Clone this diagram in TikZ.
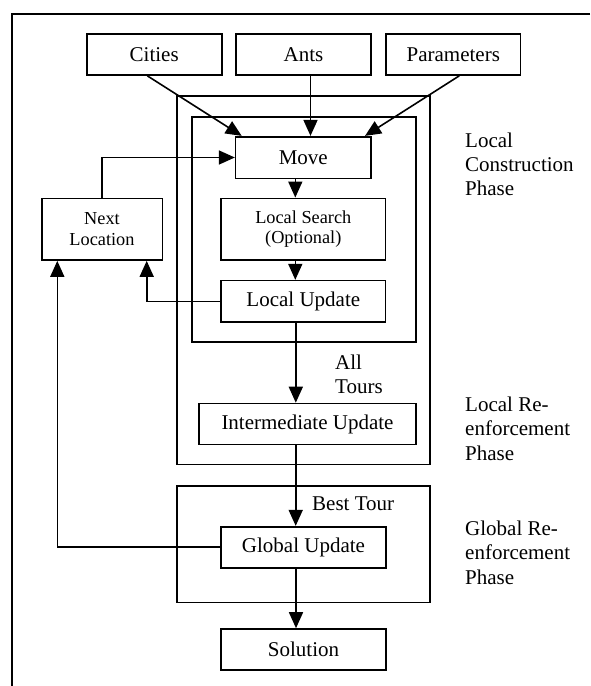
\documentclass[tikz,border=0pt]{standalone}
\usepackage{fontspec}
\setmainfont{Liberation Serif}
\usetikzlibrary{arrows.meta,calc}
\newcommand\diagbig{\fontsize{21pt}{24.2pt}\selectfont}
\newcommand\diagsmall{\fontsize{18.3pt}{20.7pt}\selectfont}
\begin{document}
\begin{tikzpicture}[x=1pt,y=-1pt,
  box/.style={draw,line width=1.6pt,inner sep=0pt,align=center,font=\diagbig},
  sbox/.style={box,font=\diagsmall},
  arr/.style={line width=1.6pt,-{Triangle[length=16pt,width=14pt]}},
  frame/.style={line width=1.6pt},
  lbl/.style={inner sep=0pt,align=left,font=\diagbig,anchor=base west}]
\useasboundingbox (0,0) rectangle (590,686);
% page frame
\draw[line width=2.3pt] (590,14) -- (12.3,14) -- (12.3,686);
% group frames
\draw[frame] (176.7,96) rectangle (430,464.5);
\draw[frame] (191.7,116.7) rectangle (415.7,342);
\draw[frame] (176.7,486) rectangle (430,602.5);
% nodes
\node[box,minimum width=135pt,minimum height=41pt] (cities) at (154.2,54.5) {Cities};
\node[box,minimum width=135pt,minimum height=41pt] (ants) at (303.5,54.5) {Ants};
\node[box,minimum width=134.7pt,minimum height=41pt] (params) at (453.3,54.5) {Parameters};
\node[box,minimum width=135.3pt,minimum height=41.6pt] (move) at (303.3,157.5) {Move};
\node[sbox,minimum width=120.6pt,minimum height=61.7pt] (nl) at (102,229.2) {Next\\Location};
\node[sbox,minimum width=164.7pt,minimum height=61.7pt] (ls) at (303.3,229.2) {Local Search\\(Optional)};
\node[box,minimum width=164.7pt,minimum height=41.3pt] (lu) at (303.3,301.3) {Local Update};
\node[box,minimum width=217pt,minimum height=41pt] (iu) at (307.5,424) {Intermediate Update};
\node[box,minimum width=165pt,minimum height=41pt] (gu) at (303.5,547.2) {Global Update};
\node[box,minimum width=165pt,minimum height=41pt] (sol) at (303.5,649.5) {Solution};
% labels (base anchor = baseline of the last line)
\node[lbl] (alltours) at (335,393.3) {All\\Tours};
\node[lbl] (besttour) at (312,510) {Best Tour};
\node[lbl] (ph1) at (465,195.4) {Local\\Construction\\Phase};
\node[lbl] (ph2) at (465,460) {Local Re-\\enforcement\\Phase};
\node[lbl] (ph3) at (465,584) {Global Re-\\enforcement\\Phase};
% connectors
\draw[arr] ([xshift=-6.9pt]cities.south) -- ([xshift=-61.6pt]move.north);
\draw[arr] ([xshift=7pt]ants.south) -- ([xshift=7.2pt]move.north);
\draw[arr] ([xshift=6pt]params.south) -- ([xshift=61.7pt]move.north);
\draw[arr] (nl.north) |- (move.west);
\draw[arr] ([xshift=-8pt]move.south) -- ([xshift=-8pt]ls.north);
\draw[arr] ([xshift=-8pt]ls.south) -- ([xshift=-8pt]lu.north);
\draw[arr] (lu.west) -| ([xshift=44.7pt]nl.south);
\draw[arr] ([xshift=-7.5pt]lu.south) -- ([xshift=-7.5pt]lu.south |- iu.north);
\draw[arr] ([xshift=-7.8pt]gu.north |- iu.south) -- ([xshift=-7.8pt]gu.north);
\draw[arr] ([xshift=-7.5pt]gu.south) -- ([xshift=-7.5pt]sol.north);
\draw[arr] (gu.west) -| ([xshift=-44.7pt]nl.south);
\end{tikzpicture}
\end{document}
